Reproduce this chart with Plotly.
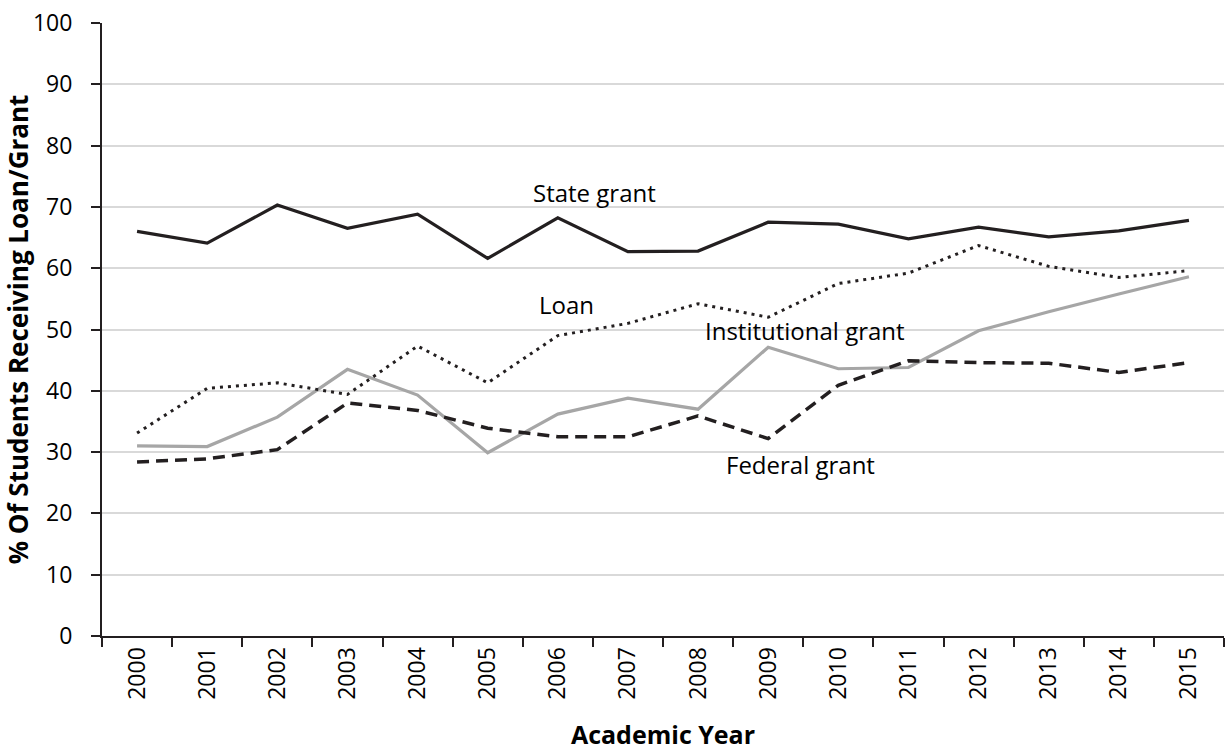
import plotly.graph_objects as go

years = [str(y) for y in range(2000, 2016)]
state_grant = [66.0, 64.1, 70.3, 66.5, 68.8, 61.6, 68.2, 62.7, 62.8, 67.5, 67.2, 64.8, 66.7, 65.1, 66.1, 67.8]
loan = [33.1, 40.4, 41.3, 39.4, 47.3, 41.3, 49.0, 51.0, 54.2, 52.0, 57.5, 59.2, 63.7, 60.3, 58.5, 59.6]
institutional_grant = [31.0, 30.9, 35.7, 43.5, 39.3, 29.9, 36.2, 38.8, 37.0, 47.1, 43.6, 43.8, 49.8, 52.9, 55.8, 58.6]
federal_grant = [28.4, 28.9, 30.4, 38.0, 36.8, 33.9, 32.5, 32.5, 35.9, 32.2, 40.9, 44.9, 44.6, 44.5, 43.0, 44.6]

labels = ["State grant", "Loan", "Institutional grant", "Federal grant"]
label_x = [6.53, 6.13, 9.53, 9.46]
label_y = [72.4, 54.0, 49.9, 27.9]

FONT = "Open Sans, Noto Sans, sans-serif"
BLACK = "#231f20"
GRAY = "#a6a6a6"

fig = go.Figure()
fig.add_trace(go.Scatter(x=years, y=institutional_grant, mode="lines",
                         line=dict(color=GRAY, width=3.2), name="Institutional grant"))
fig.add_trace(go.Scatter(x=years, y=federal_grant, mode="lines",
                         line=dict(color=BLACK, width=3.5, dash="12px,7px"), name="Federal grant"))
fig.add_trace(go.Scatter(x=years, y=loan, mode="lines",
                         line=dict(color=BLACK, width=3, dash="3px,5px"), name="Loan"))
fig.add_trace(go.Scatter(x=years, y=state_grant, mode="lines",
                         line=dict(color=BLACK, width=3.2), name="State grant"))

for t, xx, yy in zip(labels, label_x, label_y):
    fig.add_annotation(x=xx, y=yy, text=t, showarrow=False,
                       font=dict(family=FONT, size=24, color="#000000"),
                       xanchor="center", yanchor="middle")

fig.update_layout(
    width=1225, height=751,
    margin=dict(l=102, r=1, t=23, b=115),
    paper_bgcolor="white", plot_bgcolor="white",
    showlegend=False,
    font=dict(family=FONT, size=24, color="#000000"),
)
fig.update_xaxes(
    type="category", range=[-0.5, 15.5],
    tickson="boundaries", ticks="outside", ticklen=9, tickwidth=1.5, tickcolor=BLACK,
    showline=True, linecolor=BLACK, linewidth=2,
    showgrid=False, tickangle=-90,
    tickfont=dict(family=FONT, size=23, color="#000000"),
    title=dict(text="<b>Academic Year</b>", font=dict(family=FONT, size=25, color="#000000"), standoff=28),
)
fig.update_yaxes(
    range=[0, 100], dtick=10, tick0=0,
    ticks="outside", ticklen=9, tickwidth=1.5, tickcolor=BLACK,
    showline=True, linecolor=BLACK, linewidth=2,
    showgrid=True, gridcolor="#d9d9d9", gridwidth=1.5,
    zeroline=False, ticklabelstandoff=14,
    tickfont=dict(family=FONT, size=23, color="#000000"),
    title=dict(text="<b>% Of Students Receiving Loan/Grant</b>", font=dict(family=FONT, size=26, color="#000000"), standoff=4),
)

fig.write_html("out.html", config={"displayModeBar": False},
               post_script="document.body.style.margin='0';")
